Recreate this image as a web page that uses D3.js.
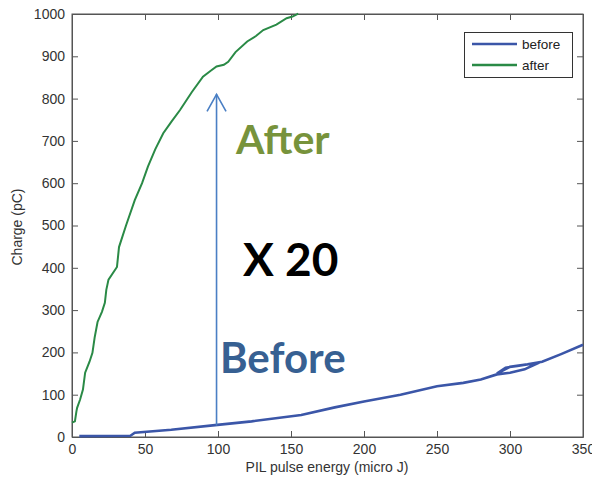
<!DOCTYPE html>
<html><head><meta charset="utf-8">
<script src="https://cdn.jsdelivr.net/npm/d3@7"></script>
<style>body{margin:0;background:#fff}svg{display:block}</style>
</head><body>
<svg id="c" width="592" height="484"></svg>
<script>
const xTicks = [0,50,100,150,200,250,300,350];
const yTicks = [0,100,200,300,400,500,600,700,800,900,1000];
const seriesNames = ["before","after"];
const afterX = [0,2,3,3.5,5.5,7.5,9,12,14,15.5,17.5,20.5,22.5,23.5,25,30.8,32.2,37,43,48,52,57,62.5,68,74,82,89.7,95,99,104,107,112,120,126,131,140,147,151,155];
const afterY = [34,37,60,69,88,112,152,178,199,235,272,296,317,348,372,402,449,500,560,600,639,680,718,745,773,815,852,866,876,880,887,910,935,948,962,975,990,994,1001];
const beforeX = [5,40,43,68,98,123,157,180,200,225,250,268,280,291,300,310,320,316,305,297,291,300,312,322,335,350];
const beforeY = [2,3,10,17,28,37,52,70,84,100,120,128,136,148,152,160,176,174,168,164,150,166,172,178,196,218];

const svg = d3.select("#c");
const m = {l:72, r:583, t:14, b:437};
const x = d3.scaleLinear().domain([0,350]).range([m.l,m.r]);
const y = d3.scaleLinear().domain([0,1000]).range([m.b,m.t]);
const font = "'Liberation Sans', Arial, sans-serif";
const axisCol = "#555";

svg.append("rect").attr("x",m.l).attr("y",m.t).attr("width",m.r-m.l).attr("height",m.b-m.t)
  .attr("fill","#fff").attr("stroke",axisCol).attr("stroke-width",1);

const fmt = d3.format("d");
const gx = svg.append("g").attr("transform",`translate(0,${m.b})`)
  .call(d3.axisBottom(x).tickValues(xTicks).tickFormat(fmt).tickSizeInner(-6).tickSizeOuter(0).tickPadding(7));
const gy = svg.append("g").attr("transform",`translate(${m.l},0)`)
  .call(d3.axisLeft(y).tickValues(yTicks).tickFormat(fmt).tickSizeInner(-6).tickSizeOuter(0).tickPadding(7));
const gt = svg.append("g").attr("transform",`translate(0,${m.t})`)
  .call(d3.axisTop(x).tickValues(xTicks).tickSizeInner(-6).tickSizeOuter(0).tickFormat(""));
const gr = svg.append("g").attr("transform",`translate(${m.r},0)`)
  .call(d3.axisRight(y).tickValues(yTicks).tickSizeInner(-6).tickSizeOuter(0).tickFormat(""));
[gx,gy,gt,gr].forEach(g=>{
  g.select(".domain").attr("stroke",axisCol);
  g.selectAll(".tick line").attr("stroke",axisCol);
  g.selectAll(".tick text").attr("fill","#333").style("font-family",font).style("font-size","14px");
});

const line = d3.line().x(d=>x(d[0])).y(d=>y(d[1]));
const afterData = afterX.map((v,i)=>[v,afterY[i]]);
const beforeData = beforeX.map((v,i)=>[v,beforeY[i]]);
svg.append("path").datum(beforeData).attr("d",line).attr("fill","none")
  .attr("stroke","#3b56a8").attr("stroke-width",2.6);
svg.append("path").datum(afterData).attr("d",line).attr("fill","none")
  .attr("stroke","#2a8a46").attr("stroke-width",2);

const ac = "#4a7fc4";
svg.append("line").attr("x1",x(99)).attr("x2",x(99)).attr("y1",y(27)).attr("y2",y(810))
  .attr("stroke",ac).attr("stroke-width",1.6);
svg.append("path").attr("d",`M${x(99)-9.5},${y(810)+17} L${x(99)},${y(810)} L${x(99)+9.5},${y(810)+17}`)
  .attr("fill","none").attr("stroke",ac).attr("stroke-width",1.6);

const bold = "Lato, 'Open Sans', sans-serif";
svg.append("text").attr("x",236).attr("y",154).text("After")
  .attr("fill","#77933c").style("font-family",bold).style("font-weight","bold").style("font-size","41px");
svg.append("text").attr("x",243).attr("y",276).text("X 20")
  .attr("fill","#000").style("font-family",bold).style("font-weight","bold").style("font-size","46px");
svg.append("text").attr("x",220).attr("y",373).text("Before")
  .attr("fill","#376092").style("font-family",bold).style("font-weight","bold").style("font-size","42px");

const lg = svg.append("g");
lg.append("rect").attr("x",464.5).attr("y",32.5).attr("width",108).attr("height",45)
  .attr("fill","#fff").attr("stroke","#333").attr("stroke-width",1);
const lc = ["#3b56a8","#2a8a46"];
seriesNames.forEach((n,i)=>{
  const yy = 44 + i*21;
  lg.append("line").attr("x1",472).attr("x2",517).attr("y1",yy).attr("y2",yy)
    .attr("stroke",lc[i]).attr("stroke-width",2.4);
  lg.append("text").attr("x",522).attr("y",yy+4.5).text(n).attr("fill","#222")
    .style("font-family",font).style("font-size","13.5px");
});

svg.append("text").attr("x",327).attr("y",472).attr("text-anchor","middle")
  .text("PIL pulse energy (micro J)").attr("fill","#333").style("font-family",font).style("font-size","14px");
svg.append("text").attr("transform",`translate(22,${227}) rotate(-90)`).attr("text-anchor","middle")
  .text("Charge (pC)").attr("fill","#333").style("font-family",font).style("font-size","14px");
</script>
</body></html>
